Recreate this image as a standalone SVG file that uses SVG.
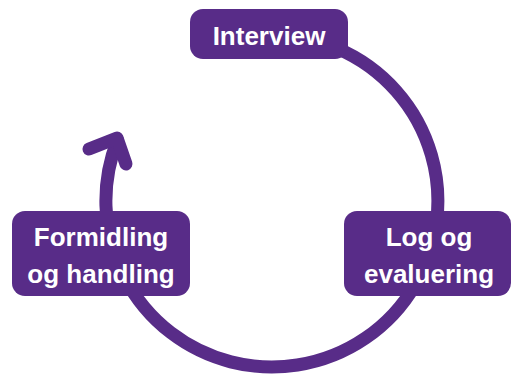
<svg xmlns="http://www.w3.org/2000/svg" width="512" height="374" viewBox="0 0 512 374">
<style>
.box{fill:#582C88}
.lbl{fill:#fff;font-family:"Liberation Sans",Arial,sans-serif;font-weight:bold;font-size:26px;text-anchor:middle}
.conn{fill:none;stroke:#582C88;stroke-width:13;stroke-linecap:round;stroke-linejoin:round}
</style>
<g id="connectors">
<path class="conn" d="M271.5,35 A166,166 0 1 1 117.5,140"/>
<polyline class="conn" points="89,149 117,138 126,164"/>
</g>
<g id="interview">
<rect class="box" x="190" y="9" width="158" height="50" rx="13"/>
<text class="lbl" x="269" y="45">Interview</text>
</g>
<g id="log">
<rect class="box" x="344" y="211" width="167" height="85" rx="13"/>
<text class="lbl" x="429" y="246">Log og</text>
<text class="lbl" x="429" y="283">evaluering</text>
</g>
<g id="formidling">
<rect class="box" x="12" y="211" width="178" height="85" rx="13"/>
<text class="lbl" x="101" y="246">Formidling</text>
<text class="lbl" x="101" y="283">og handling</text>
</g>
</svg>
